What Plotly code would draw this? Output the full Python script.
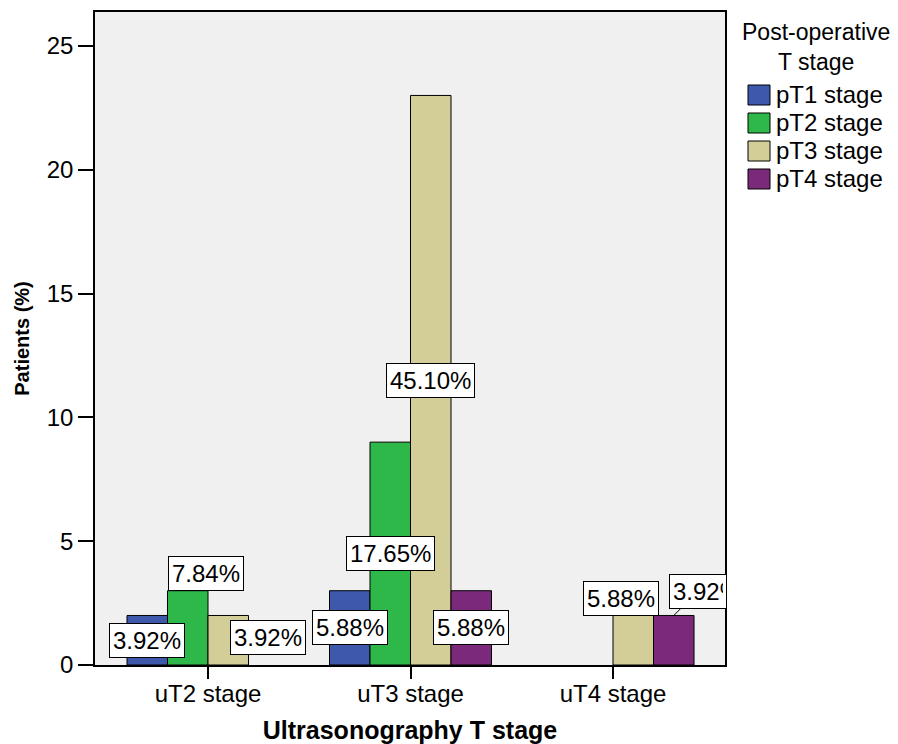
import plotly.graph_objects as go

categories = ["uT2 stage", "uT3 stage", "uT4 stage"]
series_names = ["pT1 stage", "pT2 stage", "pT3 stage", "pT4 stage"]
pT1_values = [2, 3, 0]
pT2_values = [3, 9, 0]
pT3_values = [2, 23, 2]
pT4_values = [0, 3, 2]
pT1_labels = ["3.92%", "5.88%", None]
pT2_labels = ["7.84%", "17.65%", None]
pT3_labels = ["3.92%", "45.10%", "5.88%"]
pT4_labels = [None, "5.88%", "3.92%"]
y_tick_values = [0, 5, 10, 15, 20, 25]
legend_title = "Post-operative<br>T stage"

colors = ["#3e58ac", "#2eb84a", "#d3ce97", "#7b2a7b"]
all_values = [pT1_values, pT2_values, pT3_values, pT4_values]
all_labels = [pT1_labels, pT2_labels, pT3_labels, pT4_labels]

# label placement tweaks (pixels), keyed by (series, category)
label_shift = {
    (1, 0): (18, 54),
    (2, 0): (40, 3),
    (2, 2): (-12, 42),
}

FONT = "Liberation Sans, Arial, sans-serif"
LABEL_FONT = dict(family=FONT, size=24, color="black")

W, H = 898, 744
PL, PR, PT, PB = 95, 725, 12, 665   # plot area in pixels


def px_x(x):
    return (x - PL) / (PR - PL)


def px_y(y):
    return (PB - y) / (PB - PT)


fig = go.Figure()
for name, vals, col in zip(series_names, all_values, colors):
    fig.add_trace(go.Bar(
        name=name, x=categories, y=vals, showlegend=False,
        marker=dict(color=col,
                    line=dict(color="black", width=[1 if v else 0 for v in vals])),
    ))

annotations = []
shapes = []
n = len(series_names)
for s in range(n):
    for c in range(len(categories)):
        txt = all_labels[s][c]
        if not txt:
            continue
        xpos = c + (s - (n - 1) / 2) * 0.2
        v = all_values[s][c]
        if (s, c) == (3, 2):
            annotations.append(dict(
                x=xpos, y=v, xref="x", yref="y", text=txt,
                showarrow=True, arrowhead=0, arrowwidth=1, arrowcolor="black",
                ax=24, ay=-24, width=50, align="left",
                font=LABEL_FONT,
                bgcolor="white", bordercolor="black", borderwidth=1, borderpad=3,
            ))
            continue
        dx, dy = label_shift.get((s, c), (0, 0))
        annotations.append(dict(
            x=xpos, y=v / 2, xref="x", yref="y", text=txt, showarrow=False,
            xshift=dx, yshift=dy, font=LABEL_FONT,
            bgcolor="white", bordercolor="black", borderwidth=1, borderpad=3,
        ))

# legend (drawn by hand to match swatch size and spacing)
annotations.append(dict(
    x=px_x(816), y=px_y(47), xref="paper", yref="paper", text=legend_title,
    showarrow=False, align="center", xanchor="center", yanchor="middle",
    font=dict(family=FONT, size=23, color="black"),
))
for i, (name, col) in enumerate(zip(series_names, colors)):
    cy = 95 + 28 * i
    shapes.append(dict(
        type="rect", xref="paper", yref="paper",
        x0=px_x(748), x1=px_x(770), y0=px_y(cy + 10), y1=px_y(cy - 10),
        fillcolor=col, line=dict(color="black", width=1),
    ))
    annotations.append(dict(
        x=px_x(774), y=px_y(cy), xref="paper", yref="paper", text=name,
        showarrow=False, xanchor="left", yanchor="middle",
        font=dict(family=FONT, size=24, color="black"),
    ))

fig.update_layout(
    width=W, height=H,
    margin=dict(l=PL, r=W - PR, t=PT, b=H - PB, autoexpand=False),
    paper_bgcolor="white", plot_bgcolor="#f0f0f0",
    barmode="group", bargap=0.2, bargroupgap=0,
    font=dict(family=FONT, size=22, color="black"),
    annotations=annotations, shapes=shapes,
    xaxis=dict(
        type="category", range=[-0.558, 2.553], automargin=False,
        showline=True, linecolor="black", linewidth=1.5, mirror=True,
        ticks="outside", ticklen=12, tickcolor="black", tickwidth=1.5,
        showgrid=False, tickfont=dict(size=24), ticklabelstandoff=-6,
        title=dict(text="<b>Ultrasonography T stage</b>", font=dict(size=25), standoff=17),
    ),
    yaxis=dict(
        range=[0, 26.37], tickvals=y_tick_values, automargin=False,
        showline=True, linecolor="black", linewidth=1.5, mirror=True,
        ticks="outside", ticklen=15, tickcolor="black", tickwidth=1.5,
        showgrid=False, zeroline=False, tickfont=dict(size=24),
        title=dict(text="<b>Patients (%)</b>", font=dict(size=20), standoff=12),
    ),
)

fig.write_html(
    "out.html",
    config={"displayModeBar": False},
    post_script="document.body.style.margin='0';document.body.style.overflow='hidden';",
)
